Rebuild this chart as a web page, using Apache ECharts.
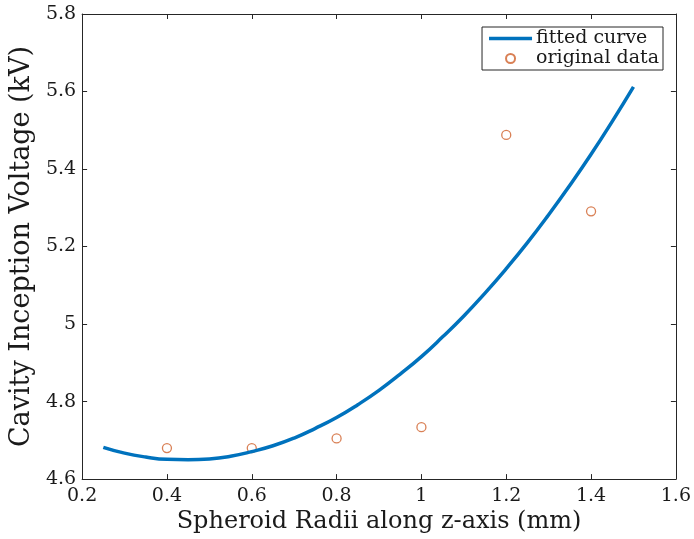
<!DOCTYPE html>
<html>
<head>
<meta charset="utf-8">
<script src="https://cdn.jsdelivr.net/npm/echarts@6/dist/echarts.min.js"></script>
<style>html,body{margin:0;padding:0;background:#fff;}#c{width:694px;height:539px;}</style>
</head>
<body>
<div id="c"></div>
<script>
// Fitted curve samples (x in mm, y in kV)
const curveX = [0.25,0.30,0.35,0.40,0.45,0.50,0.55,0.60,0.65,0.70,0.75,0.80,0.85,0.90,0.95,1.00,1.05,1.10,1.15,1.20,1.25,1.30,1.35,1.40,1.45,1.50];
const curveY = [4.682,4.667,4.657,4.651,4.650,4.652,4.659,4.671,4.686,4.706,4.731,4.759,4.792,4.829,4.871,4.916,4.967,5.021,5.080,5.143,5.210,5.282,5.358,5.438,5.523,5.612];
// Original data points
const dataX = [0.4,0.6,0.8,1.0,1.2,1.4];
const dataY = [4.680,4.680,4.705,4.734,5.488,5.291];
const xTicks = {min:0.2,max:1.6,interval:0.2};
const yTicks = {min:4.6,max:5.8,interval:0.2};
const seriesNames = ['fitted curve','original data'];
const xTitle = 'Spheroid Radii along z-axis (mm)';
const yTitle = 'Cavity Inception Voltage (kV)';

const FONT = 'DejaVu Serif';
const AX = '#262626';
const TXT = '#1a1a1a';
const BLUE = '#0072BD';
const ORANGE = '#D0602A';
const chart = echarts.init(document.getElementById('c'), null, {renderer:'canvas'});
const fmt = v => String(Math.round(v*10)/10);
const baseAxis = {
  axisLine:{show:true,onZero:false,lineStyle:{color:AX,width:1}},
  axisTick:{show:true,inside:true,length:5,lineStyle:{color:AX,width:1}},
  splitLine:{show:false}
};
chart.setOption({
  animation:false,
  backgroundColor:'#fff',
  grid:{left:80,right:17,top:14,bottom:55,containLabel:false},
  legend:{
    orient:'vertical', right:31, top:27,
    data:[
      {name:seriesNames[0], icon:'path://M0,0H43V3.4H0Z', itemStyle:{color:BLUE}},
      {name:seriesNames[1]}
    ],
    itemWidth:43, itemHeight:9, itemGap:1,
    borderColor:'#262626', borderWidth:1, padding:[2,4,2,7],
    textStyle:{fontFamily:FONT,fontSize:19,color:TXT,lineHeight:19,padding:[0,0,0,-1]},
    backgroundColor:'#fff'
  },
  xAxis:[
    Object.assign({}, baseAxis, {type:'value', position:'bottom', min:xTicks.min, max:xTicks.max, interval:xTicks.interval,
      axisLabel:{show:true,margin:7,fontFamily:FONT,fontSize:19,color:TXT,formatter:fmt},
      name:xTitle, nameLocation:'middle', nameGap:25,
      nameTextStyle:{fontFamily:FONT,fontSize:24,color:TXT}}),
    Object.assign({}, baseAxis, {type:'value', position:'top', min:xTicks.min, max:xTicks.max, interval:xTicks.interval,
      axisLabel:{show:false}})
  ],
  yAxis:[
    Object.assign({}, baseAxis, {type:'value', position:'left', min:yTicks.min, max:yTicks.max, interval:yTicks.interval,
      axisLabel:{show:true,margin:6,fontFamily:FONT,fontSize:19,color:TXT,formatter:fmt},
      name:yTitle, nameLocation:'middle', nameGap:39,
      nameTextStyle:{fontFamily:FONT,fontSize:27,color:TXT}}),
    Object.assign({}, baseAxis, {type:'value', position:'right', min:yTicks.min, max:yTicks.max, interval:yTicks.interval,
      axisLabel:{show:false}})
  ],
  series:[
    {name:seriesNames[0], type:'line', xAxisIndex:0, yAxisIndex:0, smooth:true, symbol:'none',
     data:curveX.map((x,i)=>[x,curveY[i]]),
     lineStyle:{color:BLUE,width:3.5}, itemStyle:{color:BLUE}},
    {name:seriesNames[1], type:'scatter', xAxisIndex:0, yAxisIndex:0, symbol:'circle', symbolSize:9,
     data:dataX.map((x,i)=>[x,dataY[i]]),
     itemStyle:{color:'rgba(0,0,0,0)',borderColor:ORANGE,borderWidth:1.3}}
  ]
});
</script>
</body>
</html>
